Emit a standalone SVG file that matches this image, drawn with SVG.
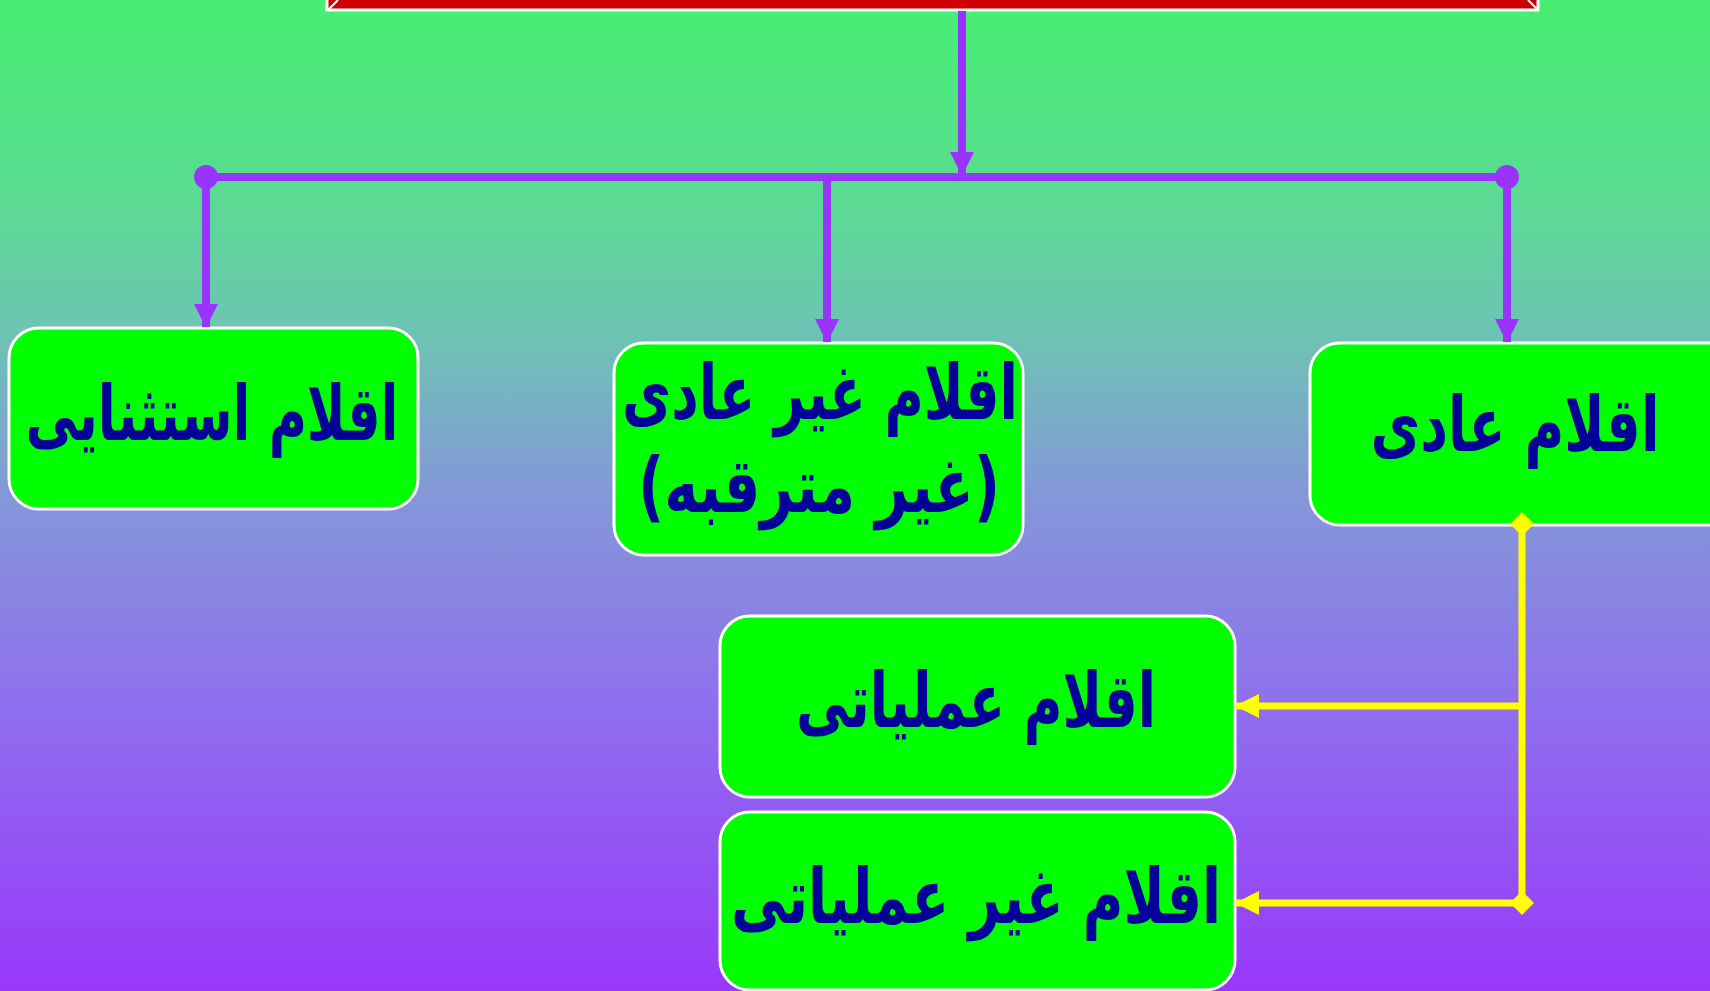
<svg xmlns="http://www.w3.org/2000/svg" width="1710" height="991" viewBox="0 0 1710 991">
<defs>
<linearGradient id="bg" x1="0" y1="0" x2="0" y2="1">
<stop offset="0" stop-color="#46EE72"/>
<stop offset="0.18" stop-color="#58DE8E"/>
<stop offset="0.34" stop-color="#6EC3B4"/>
<stop offset="0.5" stop-color="#8497D8"/>
<stop offset="0.72" stop-color="#8F6EEE"/>
<stop offset="1" stop-color="#9838FA"/>
</linearGradient>
<marker id="ap" markerUnits="userSpaceOnUse" markerWidth="24" markerHeight="24" viewBox="0 0 24 24" refX="23" refY="12" orient="auto">
<path d="M0,0 L24,12 L0,24 Z" fill="#9933FF"/>
</marker>
<marker id="ay" markerUnits="userSpaceOnUse" markerWidth="24" markerHeight="24" viewBox="0 0 24 24" refX="23" refY="12" orient="auto">
<path d="M0,0 L24,12 L0,24 Z" fill="#FFFF00"/>
</marker>
<marker id="dy" markerUnits="userSpaceOnUse" markerWidth="24" markerHeight="24" viewBox="0 0 24 24" refX="12" refY="12" orient="auto">
<path d="M12,0 L24,12 L12,24 L0,12 Z" fill="#FFFF00"/>
</marker>
</defs>
<style>
.box{fill:#00FF00;stroke:#FFFFFF;stroke-width:3}
.t{font-family:"DejaVu Sans","Noto Sans",sans-serif;font-weight:bold;font-size:76px;fill:#000099;text-anchor:middle}
.p{stroke:#9933FF;stroke-width:8;fill:none}
.y{stroke:#FFFF00;stroke-width:7;fill:none}
</style>
<rect x="0" y="0" width="1710" height="991" fill="url(#bg)"/>
<g id="title">
<rect x="327" y="-20" width="1211" height="30" fill="#CC0000" stroke="#FFFFFF" stroke-width="3"/>
<line x1="328" y1="10" x2="338" y2="0" stroke="#FFFFFF" stroke-width="2"/>
<line x1="1528" y1="0" x2="1538" y2="10" stroke="#FFFFFF" stroke-width="2"/>
</g>
<g id="node-exceptional">
<rect class="box" x="9" y="328" width="409" height="181" rx="30"/>
<text class="t" x="212" y="440" textLength="373" lengthAdjust="spacingAndGlyphs">اقلام استثنایی</text>
</g>
<g id="node-nonordinary">
<rect class="box" x="614" y="343" width="409" height="212" rx="30"/>
<text class="t" x="820" y="419" textLength="396" lengthAdjust="spacingAndGlyphs">اقلام غیر عادی</text>
<text class="t" x="819" y="512" textLength="362" lengthAdjust="spacingAndGlyphs">(غیر مترقبه)</text>
</g>
<g id="node-ordinary">
<rect class="box" x="1310" y="343" width="430" height="182" rx="30"/>
<text class="t" x="1515" y="451" textLength="289" lengthAdjust="spacingAndGlyphs">اقلام عادی</text>
</g>
<g id="node-operating">
<rect class="box" x="720" y="616" width="515" height="181" rx="30"/>
<text class="t" x="976" y="727" textLength="360" lengthAdjust="spacingAndGlyphs">اقلام عملیاتی</text>
</g>
<g id="node-nonoperating">
<rect class="box" x="720" y="812" width="515" height="178" rx="30"/>
<text class="t" x="976" y="923" textLength="490" lengthAdjust="spacingAndGlyphs">اقلام غیر عملیاتی</text>
</g>
<g id="connectors">
<line class="p" x1="962" y1="11" x2="962" y2="175" marker-end="url(#ap)"/>
<line class="p" x1="206" y1="177" x2="1507" y2="177"/>
<circle cx="206" cy="177" r="12" fill="#9933FF"/>
<circle cx="1507" cy="177" r="12" fill="#9933FF"/>
<line class="p" x1="206" y1="177" x2="206" y2="327" marker-end="url(#ap)"/>
<line class="p" x1="827" y1="177" x2="827" y2="342" marker-end="url(#ap)"/>
<line class="p" x1="1507" y1="177" x2="1507" y2="342" marker-end="url(#ap)"/>
<line class="y" x1="1522" y1="524" x2="1522" y2="903" marker-start="url(#dy)" marker-end="url(#dy)"/>
<line class="y" x1="1522" y1="706" x2="1236" y2="706" marker-end="url(#ay)"/>
<line class="y" x1="1522" y1="903" x2="1236" y2="903" marker-end="url(#ay)"/>
</g>
</svg>
